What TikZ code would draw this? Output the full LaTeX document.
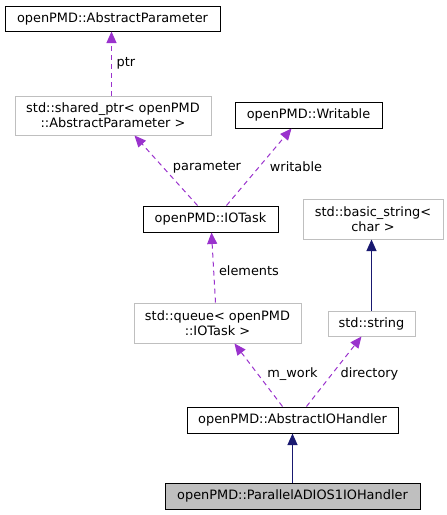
\documentclass[tikz,border=0pt]{standalone}
\usepackage{fontspec}
\setmainfont{DejaVu Sans}
\usetikzlibrary{arrows.meta,calc}
\definecolor{edgepurple}{HTML}{9A32CD}
\definecolor{edgenavy}{HTML}{191970}
\definecolor{undoc}{HTML}{BFBFBF}
\definecolor{hilite}{HTML}{BFBFBF}
\tikzset{
  every node/.style={font=\fontsize{12.9}{15}\selectfont, inner sep=0pt, align=center},
  docbox/.style={draw=black, line width=1pt, minimum width=#1},
  undocbox/.style={draw=undoc, line width=1pt, minimum width=#1},
  usage/.style={draw=edgepurple, line width=1pt, dash pattern=on 5pt off 4pt, -{Triangle[length=11.5pt,width=10pt]}},
  inherit/.style={draw=edgenavy, line width=1pt, -{Triangle[length=11.5pt,width=10pt,fill=edgenavy]}},
  lbl/.style={}
}
\begin{document}
\begin{tikzpicture}[x={(1pt,0)}, y={(0,-1pt)}]
\useasboundingbox (0,0) rectangle (447,515);
% nodes
\node[docbox=215, minimum height=25] (absparam) at (112.5,18.5) {openPMD::AbstractParameter};
\node[undocbox=196, minimum height=39] (shptr) at (113,115.5) {std::shared\_ptr< openPMD\\::AbstractParameter >};
\node[docbox=147, minimum height=26] (writable) at (308.5,115) {openPMD::Writable};
\node[docbox=135, minimum height=26] (iotask) at (210.5,219) {openPMD::IOTask};
\node[undocbox=140, minimum height=40] (basicstr) at (373,219) {std::basic\_string<\\char >};
\node[undocbox=167, minimum height=40] (queue) at (217.5,323) {std::queue< openPMD\\::IOTask >};
\node[undocbox=87, minimum height=25] (string) at (371.5,323.5) {std::string};
\node[docbox=211, minimum height=26] (absio) at (292.5,420) {openPMD::AbstractIOHandler};
\node[docbox=255, minimum height=26, fill=hilite] (parallel) at (292.5,496) {openPMD::ParallelADIOS1IOHandler};
% edges
\draw[usage] ($(shptr.north west)+(97,0)$) -- ($(absparam.south west)+(107,0)$);
\draw[usage] ($(iotask.north west)+(55,0)$) -- ($(shptr.south west)+(120,0)$);
\draw[usage] ($(iotask.north west)+(84,0)$) -- ($(writable.south west)+(57,0)$);
\draw[usage] ($(queue.north west)+(82,0)$) -- ($(iotask.south west)+(69,0)$);
\draw[usage] ($(absio.north west)+(96,0)$) -- ($(queue.south west)+(101,0)$);
\draw[usage] ($(absio.north west)+(120,0)$) -- ($(string.south west)+(34,0)$);
\draw[inherit] ($(string.north west)+(44,0)$) -- ($(basicstr.south west)+(69,0)$);
\draw[inherit] (parallel.north) -- (absio.south);
% labels
\node[lbl] (lptr) at (126,63) {ptr};
\node[lbl] (lparam) at (207,167) {parameter};
\node[lbl] (lwrit) at (296,167) {writable};
\node[lbl] (lelem) at (249,271) {elements};
\node[lbl] (lwork) at (292.5,374) {m\_work};
\node[lbl] (ldir) at (369.5,374) {directory};
\end{tikzpicture}
\end{document}
